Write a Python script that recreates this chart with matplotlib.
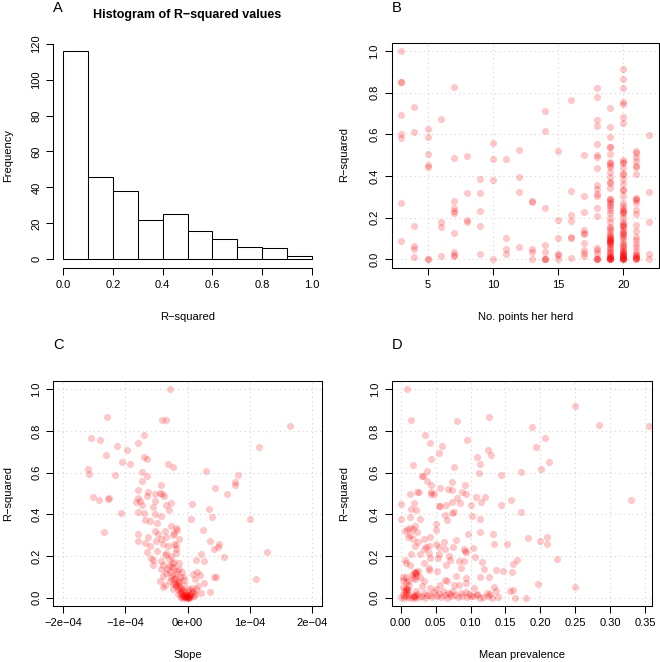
import matplotlib
matplotlib.use("Agg")
import matplotlib.pyplot as plt
import numpy as np

plt.rcParams['font.family'] = ['Liberation Sans', 'DejaVu Sans']

# ---------------- data ----------------
# Panel A: histogram of R-squared
hist_edges = [0.0, 0.1, 0.2, 0.3, 0.4, 0.5, 0.6, 0.7, 0.8, 0.9, 1.0]
hist_counts = [116, 46, 38, 22, 25, 16, 11, 7, 6, 2]

# Panel B: number of points per herd vs R-squared
herd_r2_by_n = {
    3: [1.0, 0.85, 0.85, 0.69, 0.60, 0.58, 0.27, 0.09],
    4: [0.73, 0.61, 0.16, 0.065, 0.05, 0.012],
    5: [0.625, 0.585, 0.505, 0.45, 0.445, 0.0, 0.002],
    6: [0.675, 0.178, 0.155, 0.015],
    7: [0.828, 0.484, 0.28, 0.245, 0.23, 0.22, 0.125, 0.035, 0.022, 0.015],
    8: [0.497, 0.32, 0.186, 0.178],
    9: [0.387, 0.316, 0.233, 0.158, 0.027],
    10: [0.56, 0.48, 0.378, 0.0],
    11: [0.48, 0.1, 0.05, 0.027],
    12: [0.525, 0.395, 0.325, 0.06],
    13: [0.28, 0.275, 0.05, 0.035, 0.003],
    14: [0.71, 0.617, 0.245, 0.07, 0.033, 0.003, 0.0, 0.001],
    15: [0.52, 0.19, 0.1, 0.025, 0.02, 0.0],
    16: [0.765, 0.328, 0.21, 0.183, 0.106, 0.103, 0.005],
    17: [0.502, 0.305, 0.227, 0.14, 0.125, 0.12, 0.08, 0.045, 0.03, 0.018],
    18: [0.82, 0.78, 0.667, 0.64, 0.552, 0.5, 0.493, 0.44, 0.357, 0.335, 0.313,
         0.305, 0.247, 0.208, 0.053, 0.045, 0.032, 0.005, 0.002, 0.0, 0.001],
    19: [0.724, 0.636, 0.588, 0.54, 0.538, 0.505, 0.468, 0.452, 0.444, 0.42, 0.396,
         0.372, 0.368, 0.34, 0.287, 0.28, 0.268, 0.252, 0.236, 0.22, 0.196, 0.18,
         0.157, 0.14, 0.128, 0.117, 0.104, 0.096, 0.09, 0.087, 0.081, 0.072, 0.053,
         0.029, 0.016, 0.01, 0.003, 0.092, 0.085, 0.1, 0.075, 0.06, 0.045, 0.035,
         0.022, 0.012, 0.005, 0.0, 0.001, 0.002, 0.11, 0.15, 0.26, 0.29, 0.46, 0.008],
    20: [0.915, 0.866, 0.82, 0.756, 0.743, 0.684, 0.652, 0.476, 0.465, 0.462, 0.436,
         0.41, 0.408, 0.385, 0.36, 0.332, 0.33, 0.303, 0.268, 0.256, 0.24, 0.228,
         0.217, 0.196, 0.18, 0.17, 0.157, 0.14, 0.13, 0.121, 0.105, 0.093, 0.08,
         0.064, 0.053, 0.042, 0.029, 0.019, 0.013, 0.005, 0.0, 0.235, 0.225, 0.165,
         0.16, 0.125, 0.11, 0.07, 0.035, 0.025, 0.01, 0.003, 0.001, 0.008, 0.015,
         0.045, 0.02, 0.002],
    21: [0.52, 0.508, 0.492, 0.473, 0.447, 0.444, 0.407, 0.296, 0.284, 0.268, 0.236,
         0.216, 0.165, 0.136, 0.105, 0.093, 0.072, 0.058, 0.042, 0.026, 0.016, 0.008,
         0.003, 0.29, 0.012, 0.02, 0.005, 0.0],
    22: [0.596, 0.322, 0.178, 0.025, 0.003],
}
herd_n = [n for n, vals in herd_r2_by_n.items() for _ in vals]
herd_r2 = [v for vals in herd_r2_by_n.values() for v in vals]

# Panel C: slope (x 1e-4) vs R-squared
slope_e4 = [-0.28, -1.29, -0.41, -0.34, 1.65, -0.70, -1.55, -1.41, -0.80, -1.13, 1.15,
            -0.98, -1.31, -0.70, -0.66, -1.05, -0.92, -0.32, -0.23, -1.61, 0.30, -1.58,
            -0.74, -1.16, 0.81, -0.65, -0.73, 0.76, 0.76, -0.42, 0.44, -0.80, -0.44,
            -0.63, -0.41, -0.52, 0.63, -0.38, -0.66, -1.26, -1.53, -1.28, -1.42, -0.79,
            -0.76, -0.83, -0.53, -0.26, -0.73, -0.34, 0.07, -0.56, 0.34, -0.30, -1.07,
            -0.79, -0.70, -0.42, 0.40, -0.52, -0.69, -0.60, 0.05, 1.00, -0.49, -0.27,
            -1.34, -0.19, -0.17, -0.37, 0.25, -0.53, -0.80, -0.47, -0.22, -0.24, -0.63,
            -0.34, -0.43, -0.14, -0.79, -0.68, -0.51, 0.37, 0.50, -0.21, -0.18, -0.32,
            -0.40, -0.61, 0.49, 0.42, -0.19, -0.66, 1.28, -0.49, -0.34, -0.18, 0.22,
            -0.36, 0.58, -0.58, -0.55, -0.29, 0.14, 0.27, -0.42, -0.25, -0.13, -0.56,
            -0.39, -0.25, -0.22, -0.43, -0.14, -0.28, -0.09, 0.15, -0.19, 0.09, 0.20,
            -0.39, -0.08, 0.43, 0.46, 1.11, -0.20, 0.12, -0.05, -0.28, 0.17, -0.16,
            0.26, -0.37, -0.40, -0.23, -0.09, 0.37, 0.03, 0.09, 0.22, -0.03,
            -0.12, -0.10, -0.08, -0.06, -0.05, -0.03, -0.02, 0.00, 0.01, 0.02, 0.04,
            0.06, 0.08, 0.10, -0.14, -0.16, -0.18, -0.20, -0.11, -0.07, -0.04, -0.01,
            0.03, 0.05, -0.09, -0.15, -0.22, -0.25, -0.12, -0.17, -0.30, -0.27, -0.21,
            -0.13, -0.06, 0.00, 0.12, 0.14, 0.07, -0.35, -0.45, -0.02, -0.04, -0.07,
            0.01, -0.10, -0.19, -0.24, -0.15, -0.33, -0.26, -0.11, -0.01, 0.02]
slope_r2 = [1.000, 0.867, 0.851, 0.851, 0.823, 0.781, 0.765, 0.756, 0.743, 0.730, 0.725,
            0.711, 0.685, 0.676, 0.666, 0.653, 0.644, 0.641, 0.625, 0.620, 0.609, 0.596,
            0.602, 0.591, 0.588, 0.583, 0.561, 0.553, 0.540, 0.540, 0.526, 0.519, 0.503,
            0.505, 0.500, 0.500, 0.498, 0.487, 0.489, 0.479, 0.484, 0.473, 0.470, 0.479,
            0.462, 0.458, 0.462, 0.454, 0.444, 0.444, 0.452, 0.436, 0.425, 0.420, 0.407,
            0.412, 0.407, 0.391, 0.388, 0.403, 0.372, 0.369, 0.379, 0.379, 0.359, 0.345,
            0.316, 0.334, 0.327, 0.321, 0.326, 0.321, 0.305, 0.307, 0.311, 0.302, 0.289,
            0.289, 0.281, 0.281, 0.270, 0.264, 0.272, 0.270, 0.260, 0.259, 0.254, 0.248,
            0.257, 0.248, 0.241, 0.233, 0.233, 0.220, 0.220, 0.222, 0.216, 0.216, 0.209,
            0.203, 0.196, 0.190, 0.181, 0.185, 0.181, 0.177, 0.176, 0.168, 0.165, 0.155,
            0.155, 0.149, 0.141, 0.137, 0.137, 0.125, 0.121, 0.121, 0.112, 0.112, 0.109,
            0.104, 0.101, 0.097, 0.099, 0.091, 0.093, 0.088, 0.085, 0.081, 0.056, 0.065,
            0.069, 0.059, 0.053, 0.043, 0.037, 0.029, 0.042, 0.026, 0.021, 0.011,
            0.030, 0.020, 0.015, 0.010, 0.005, 0.002, 0.000, 0.000, 0.003, 0.008, 0.012,
            0.020, 0.030, 0.010, 0.050, 0.040, 0.060, 0.070, 0.045, 0.035, 0.025, 0.015,
            0.000, 0.004, 0.000, 0.080, 0.090, 0.110, 0.100, 0.130, 0.150, 0.200, 0.170,
            0.075, 0.060, 0.030, 0.020, 0.040, 0.045, 0.120, 0.080, 0.005, 0.012, 0.008,
            0.001, 0.025, 0.055, 0.065, 0.018, 0.140, 0.095, 0.003, 0.006, 0.002]

# Panel D: mean prevalence vs R-squared
prevalence = [0.009, 0.015, 0.250, 0.126, 0.080, 0.284, 0.356, 0.188, 0.035, 0.207,
              0.042, 0.095, 0.059, 0.194, 0.125, 0.055, 0.130, 0.110, 0.043, 0.213,
              0.114, 0.018, 0.076, 0.201, 0.038, 0.173, 0.112, 0.031, 0.032, 0.143,
              0.038, 0.074, 0.044, 0.092, 0.056, 0.068, 0.074, 0.023, 0.014, 0.026,
              0.088, 0.094, 0.043, 0.044, 0.047, 0.080, 0.108, 0.121, 0.158, 0.330,
              0.074, 0.085, 0.115, 0.001, 0.019, 0.055, 0.056, 0.101, 0.143, 0.065,
              0.015, 0.022, 0.073, 0.076, 0.173, 0.063, 0.102, 0.067, 0.001, 0.013,
              0.028, 0.114, 0.050, 0.021, 0.051, 0.006, 0.013, 0.017, 0.009, 0.023,
              0.132, 0.096, 0.113, 0.014, 0.210, 0.010, 0.182, 0.017, 0.034, 0.042,
              0.079, 0.199, 0.062, 0.025, 0.134, 0.051, 0.153, 0.210, 0.020, 0.036,
              0.041, 0.055, 0.064, 0.075, 0.091, 0.034, 0.103, 0.092, 0.041, 0.094,
              0.015, 0.027, 0.055, 0.069, 0.107, 0.042, 0.053, 0.070, 0.090, 0.084,
              0.166, 0.006, 0.224, 0.116, 0.161, 0.008, 0.034, 0.013, 0.065, 0.119,
              0.087, 0.136, 0.146, 0.052, 0.041, 0.040, 0.019, 0.020, 0.022, 0.159,
              0.022, 0.114, 0.003, 0.017, 0.027, 0.079, 0.127, 0.093, 0.033, 0.064,
              0.067, 0.011, 0.007, 0.093, 0.196, 0.076, 0.083, 0.056, 0.030, 0.003,
              0.250, 0.134, 0.042, 0.051, 0.136, 0.105, 0.157, 0.161, 0.007, 0.022,
              0.075, 0.094, 0.068, 0.086, 0.033, 0.123, 0.109, 0.042, 0.000, 0.164,
              0.180, 0.131, 0.114, 0.100,
              0.005, 0.006, 0.007, 0.008, 0.009, 0.010, 0.012, 0.015, 0.018, 0.020,
              0.021, 0.024, 0.026, 0.030, 0.035, 0.038, 0.045, 0.048, 0.052, 0.055,
              0.058, 0.060, 0.063, 0.066, 0.070, 0.072, 0.078, 0.082, 0.088, 0.095,
              0.098, 0.104, 0.110, 0.118, 0.125, 0.128, 0.140, 0.004, 0.008, 0.012,
              0.016, 0.020, 0.025, 0.022, 0.005, 0.008, 0.011, 0.019, 0.021, 0.003]
prev_r2 = [1.000, 0.851, 0.918, 0.869, 0.848, 0.827, 0.823, 0.819, 0.781, 0.765,
           0.744, 0.756, 0.730, 0.725, 0.711, 0.693, 0.684, 0.674, 0.666, 0.653,
           0.644, 0.639, 0.625, 0.618, 0.607, 0.604, 0.597, 0.586, 0.584, 0.589,
           0.561, 0.553, 0.540, 0.540, 0.526, 0.524, 0.519, 0.506, 0.500, 0.505,
           0.506, 0.498, 0.506, 0.497, 0.500, 0.479, 0.481, 0.482, 0.471, 0.470,
           0.460, 0.454, 0.458, 0.452, 0.454, 0.441, 0.440, 0.446, 0.446, 0.446,
           0.425, 0.420, 0.407, 0.411, 0.411, 0.395, 0.391, 0.372, 0.379, 0.388,
           0.379, 0.379, 0.356, 0.345, 0.323, 0.321, 0.335, 0.331, 0.329, 0.313,
           0.304, 0.304, 0.315, 0.299, 0.292, 0.289, 0.286, 0.281, 0.284, 0.292,
           0.276, 0.272, 0.268, 0.267, 0.260, 0.259, 0.260, 0.260, 0.248, 0.244,
           0.248, 0.241, 0.236, 0.243, 0.235, 0.232, 0.238, 0.224, 0.216, 0.219,
           0.212, 0.209, 0.211, 0.201, 0.196, 0.192, 0.192, 0.181, 0.177, 0.176,
           0.181, 0.179, 0.184, 0.171, 0.161, 0.168, 0.165, 0.157, 0.155, 0.136,
           0.144, 0.133, 0.129, 0.128, 0.142, 0.133, 0.123, 0.120, 0.117, 0.123,
           0.102, 0.101, 0.101, 0.094, 0.097, 0.104, 0.097, 0.093, 0.081, 0.085,
           0.081, 0.081, 0.073, 0.069, 0.064, 0.062, 0.061, 0.061, 0.056, 0.053,
           0.053, 0.053, 0.048, 0.040, 0.034, 0.045, 0.032, 0.037, 0.037, 0.032,
           0.032, 0.029, 0.022, 0.021, 0.021, 0.021, 0.019, 0.013, 0.005, 0.000,
           0.000, 0.000, 0.000, 0.010,
           0.000, 0.010, 0.020, 0.030, 0.040, 0.005, 0.015, 0.000, 0.008, 0.012,
           0.000, 0.020, 0.004, 0.010, 0.000, 0.015, 0.003, 0.025, 0.008, 0.018,
           0.002, 0.030, 0.012, 0.000, 0.020, 0.006, 0.015, 0.002, 0.010, 0.004,
           0.020, 0.006, 0.012, 0.003, 0.008, 0.016, 0.005, 0.085, 0.100, 0.060,
           0.110, 0.090, 0.130, 0.125, 0.030, 0.045, 0.035, 0.005, 0.007, 0.015]

# ---------------- layout helpers ----------------
W, H = 660, 662
fig = plt.figure(figsize=(W / 100, H / 100), dpi=100)

def add_ax(x0, y0, x1, y1):
    return fig.add_axes([x0 / W, 1 - y1 / H, (x1 - x0) / W, (y1 - y0) / H])

def ftext(x, y, s, **kw):
    fig.text(x / W, 1 - y / H, s, ha='center', va='center', **kw)

FS = 8
PT_COLOR = (1, 0, 0, 0.22)
GRID_KW = dict(color='#D3D3D3', linestyle=(0, (1, 3)), linewidth=0.8, zorder=0)

def style_axis(ax, xticks, xlabels, yticks, ylabels):
    ax.set_xticks(xticks)
    ax.set_xticklabels(xlabels)
    ax.set_yticks(yticks)
    ax.set_yticklabels(ylabels, rotation=90, va='center')
    ax.tick_params(direction='out', length=4.7, width=0.75, labelsize=FS, pad=4)
    for s in ax.spines.values():
        s.set_linewidth(0.75)

def r2_axis(ax):
    return [0, 0.2, 0.4, 0.6, 0.8, 1.0], ["0.0", "0.2", "0.4", "0.6", "0.8", "1.0"]

# ---------------- Panel A ----------------
axA = add_ax(53.4, 42.5, 321.6, 267.6)
axA.bar(hist_edges[:-1], hist_counts, width=np.diff(hist_edges), align='edge',
        facecolor='white', edgecolor='black', linewidth=0.75)
axA.set_xlim(-0.04, 1.04)
axA.set_ylim(-4.64, 120.64)
style_axis(axA, [0, 0.2, 0.4, 0.6, 0.8, 1.0], ["0.0", "0.2", "0.4", "0.6", "0.8", "1.0"],
           [0, 20, 40, 60, 80, 100, 120], ["0", "20", "40", "60", "80", "100", "120"])
axA.spines['top'].set_visible(False)
axA.spines['right'].set_visible(False)
axA.spines['bottom'].set_bounds(0, 1)
axA.spines['left'].set_bounds(0, 120)
ftext(58, 8, "A", fontsize=10.5)
ftext(187.5, 15, "Histogram of R\u2212squared values", fontsize=9, fontweight='bold')
ftext(187.5, 317, "R\u2212squared", fontsize=FS)
ftext(8, 155, "Frequency", fontsize=FS, rotation=90)

# ---------------- Panel B ----------------
axB = add_ax(391.5, 42.5, 659.4, 267.6)
for v in [5, 10, 15, 20]:
    axB.axvline(v, **GRID_KW)
for v in [0, 0.2, 0.4, 0.6, 0.8, 1.0]:
    axB.axhline(v, **GRID_KW)
axB.scatter(herd_n, herd_r2, s=26, color=PT_COLOR, linewidths=0, zorder=2)
axB.set_xlim(2.24, 22.76)
axB.set_ylim(-0.04, 1.04)
yt, yl = r2_axis(axB)
style_axis(axB, [5, 10, 15, 20], ["5", "10", "15", "20"], yt, yl)
ftext(397, 8, "B", fontsize=10.5)
ftext(525.5, 317, "No. points her herd", fontsize=FS)
ftext(344, 155, "R\u2212squared", fontsize=FS, rotation=90)

# ---------------- Panel C ----------------
axC = add_ax(53.4, 381, 321.6, 606)
for v in [-2e-4, -1e-4, 0, 1e-4, 2e-4]:
    axC.axvline(v, **GRID_KW)
for v in [0, 0.2, 0.4, 0.6, 0.8, 1.0]:
    axC.axhline(v, **GRID_KW)
axC.scatter(np.array(slope_e4) * 1e-4, slope_r2, s=26, color=PT_COLOR, linewidths=0, zorder=2)
axC.set_xlim(-2.16e-4, 2.16e-4)
axC.set_ylim(-0.04, 1.04)
style_axis(axC, [-2e-4, -1e-4, 0, 1e-4, 2e-4],
           ["\u22122e\u221204", "\u22121e\u221204", "0e+00", "1e\u221204", "2e\u221204"], yt, yl)
ftext(58, 345, "C", fontsize=10.5)
ftext(187.5, 655, "Slope", fontsize=FS)
ftext(8, 493.5, "R\u2212squared", fontsize=FS, rotation=90)

# ---------------- Panel D ----------------
axD = add_ax(391.7, 381, 651.7, 606)
dticks = [0, 0.05, 0.10, 0.15, 0.20, 0.25, 0.30, 0.35]
for v in dticks:
    axD.axvline(v, **GRID_KW)
for v in [0, 0.2, 0.4, 0.6, 0.8, 1.0]:
    axD.axhline(v, **GRID_KW)
axD.scatter(prevalence, prev_r2, s=26, color=PT_COLOR, linewidths=0, zorder=2)
axD.set_xlim(-0.0129, 0.3596)
axD.set_ylim(-0.04, 1.04)
style_axis(axD, dticks, ["0.00", "0.05", "0.10", "0.15", "0.20", "0.25", "0.30", "0.35"], yt, yl)
ftext(397, 345, "D", fontsize=10.5)
ftext(521.7, 655, "Mean prevalence", fontsize=FS)
ftext(344, 493.5, "R\u2212squared", fontsize=FS, rotation=90)

fig.savefig("out.png", dpi=100)
